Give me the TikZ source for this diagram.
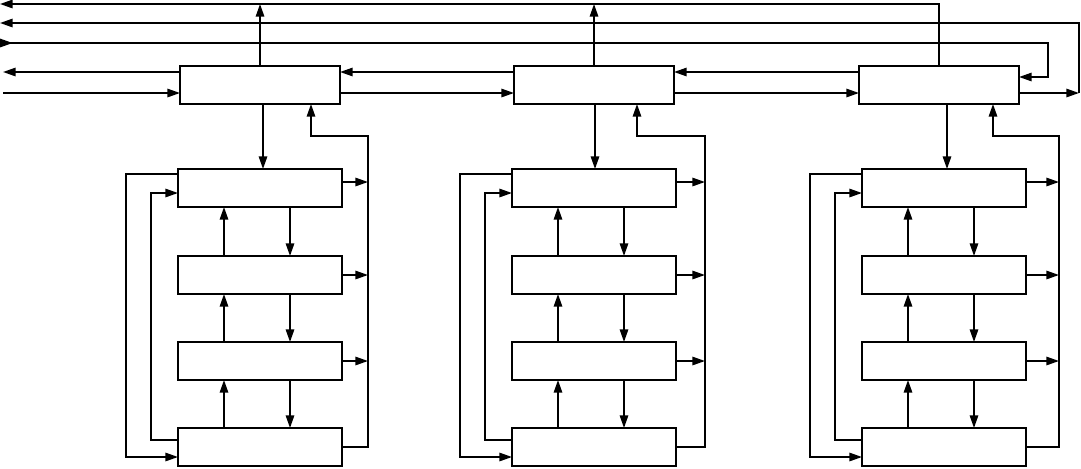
\documentclass[tikz,border=0pt]{standalone}
\usetikzlibrary{arrows.meta}
\tikzset{
  blk/.style={draw,anchor=north west,inner sep=0pt,outer sep=0pt,minimum width=4cm,minimum height=0.95cm},
  sub/.style={blk,minimum width=4.1cm},
  arr/.style={-{Triangle[length=9pt,width=6pt]}},
  biarr/.style={{Triangle[length=9pt,width=6pt,reversed]}-{Triangle[length=9pt,width=6pt]}}
}
\begin{document}
\begin{tikzpicture}[x=0.025cm,y=-0.025cm,line width=1.2pt]
\useasboundingbox (0,0) rectangle (1081,468);
% top row
\node[blk] (t1) at (180,66) {};
\node[blk] (t2) at (514,66) {};
\node[blk] (t3) at (859,66) {};
% free ends of the bus lines
\coordinate (w1) at (0,4);
\coordinate (w2) at (0,23);
\coordinate (w3) at (0,43);
\coordinate (w4) at (3,72);
\coordinate (w5) at (3,93);
\coordinate (e1) at (1079,93);
\coordinate (e2) at (1048,77);
% heights used by every column
\coordinate (ya) at (0,182);
\coordinate (yl1) at (0,174);
\coordinate (yl2) at (0,193);
\coordinate (yd1) at (0,440);
\coordinate (yd2) at (0,457);
% bus lines
\draw[arr] (t3.north) |- (w1);
\draw[arr] (t1.north) -- (t1.north |- w1);
\draw[arr] (t2.north) -- (t2.north |- w1);
\draw[arr] (t3.east |- e1) -- (e1);
\draw[arr] (e1) |- (w2);
\draw[biarr] (w3) -| (e2) -- (t3.east |- e2);
\draw[arr] (t1.west |- w4) -- (w4);
\draw[arr] (t2.west |- w4) -- (t1.east |- w4);
\draw[arr] (t3.west |- w4) -- (t2.east |- w4);
\draw[arr] (w5) -- (t1.west |- w5);
\draw[arr] (t1.east |- w5) -- (t2.west |- w5);
\draw[arr] (t2.east |- w5) -- (t3.west |- w5);
% the three columns
\foreach \c/\sx/\dn/\up/\rv in {1/178/263/311/368,2/512/595/637/705,3/862/947/993/1059}{
  \node[sub] (a\c) at (\sx,169) {};
  \node[sub] (b\c) at (\sx,256) {};
  \node[sub] (c\c) at (\sx,342) {};
  \node[sub] (d\c) at (\sx,428) {};
  \coordinate (dn\c) at (\dn,0);
  \coordinate (up\c) at (\up,136);
  \coordinate (rv\c) at (\rv,0);
  \coordinate (u\c) at ({\sx+46},0);
  \coordinate (v\c) at ({\sx+112},0);
  \coordinate (ol\c) at ({\sx-52},0);
  \coordinate (il\c) at ({\sx-27},0);
  \draw[arr] (t\c.south -| dn\c) -- (a\c.north -| dn\c);
  \draw[arr] (d\c.east) -| (rv\c |- up\c) -| (t\c.south -| up\c);
  \draw[arr] (a\c.east |- ya) -- (rv\c |- ya);
  \draw[arr] (b\c.east) -- (rv\c |- b\c.east);
  \draw[arr] (c\c.east) -- (rv\c |- c\c.east);
  \draw[arr] (a\c.south -| v\c) -- (b\c.north -| v\c);
  \draw[arr] (b\c.south -| v\c) -- (c\c.north -| v\c);
  \draw[arr] (c\c.south -| v\c) -- (d\c.north -| v\c);
  \draw[arr] (b\c.north -| u\c) -- (a\c.south -| u\c);
  \draw[arr] (c\c.north -| u\c) -- (b\c.south -| u\c);
  \draw[arr] (d\c.north -| u\c) -- (c\c.south -| u\c);
  \draw[arr] (a\c.west |- yl1) -| (ol\c |- yd2) -- (d\c.west |- yd2);
  \draw[arr] (d\c.west |- yd1) -| (il\c |- yl2) -- (a\c.west |- yl2);
}
\end{tikzpicture}
\end{document}
